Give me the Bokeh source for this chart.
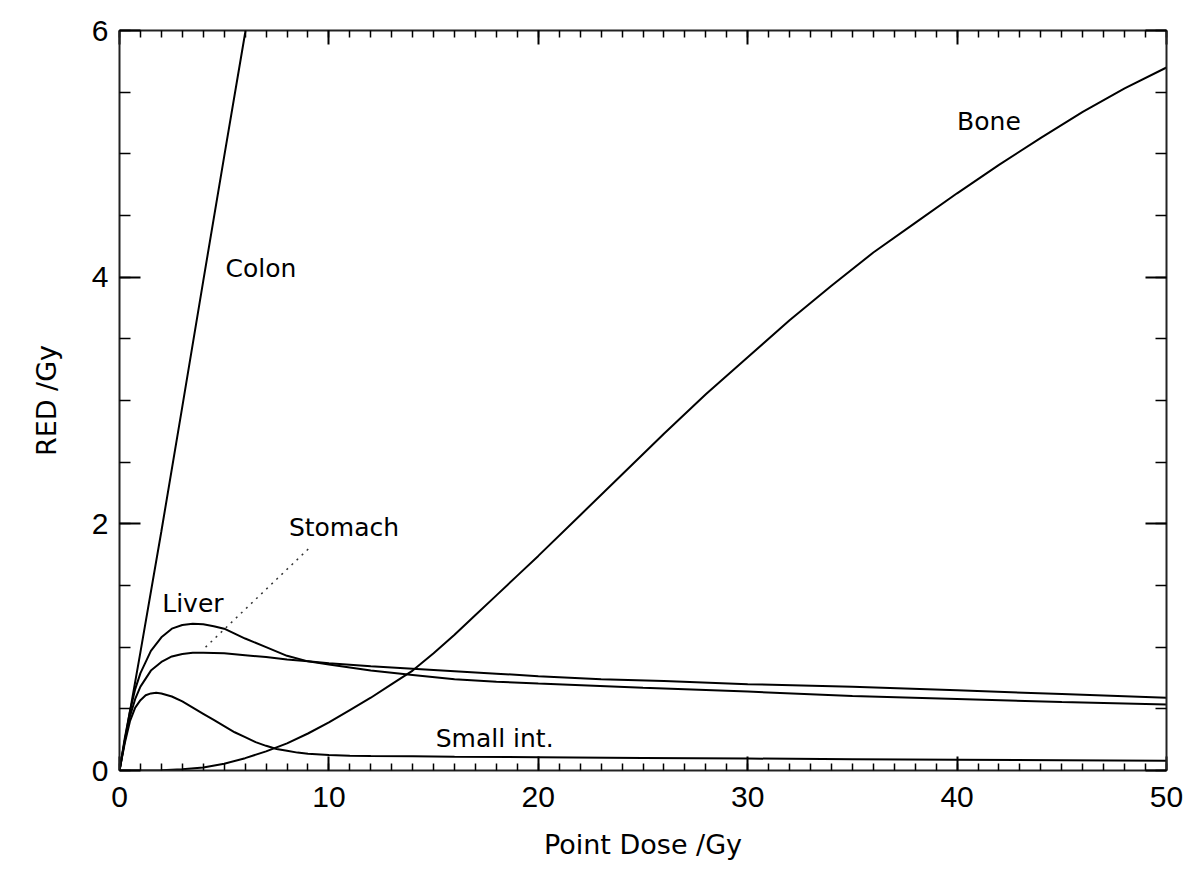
from bokeh.plotting import figure
from bokeh.models import Range1d, LinearAxis, FixedTicker
from bokeh.core.properties import value
from bokeh.embed import file_html
from bokeh.resources import INLINE

# ---- data ----
colon_x = [0, 1, 2, 3, 4, 5, 6, 6.2]
colon_y = [0, 0.96, 1.94, 2.95, 3.97, 4.98, 5.98, 6.2]

liver_x = [0, 0.25, 0.5, 0.75, 1, 1.5, 2, 2.5, 3, 3.5, 4, 4.5, 5, 5.5, 6, 7, 8, 9, 10, 11, 12, 14, 16, 18, 20, 25, 30, 35, 40, 45, 50]
liver_y = [0, 0.26, 0.48, 0.66, 0.79, 0.97, 1.08, 1.15, 1.18, 1.19, 1.185, 1.17, 1.15, 1.11, 1.07, 1.0, 0.93, 0.885, 0.86, 0.835, 0.81, 0.775, 0.74, 0.72, 0.705, 0.67, 0.64, 0.605, 0.58, 0.555, 0.535]

stomach_x = [0, 0.25, 0.5, 0.75, 1, 1.5, 2, 2.5, 3, 3.5, 4, 5, 6, 7, 8, 9, 10, 12, 14, 16, 18, 20, 23, 26, 30, 35, 40, 45, 50]
stomach_y = [0, 0.24, 0.44, 0.58, 0.68, 0.81, 0.88, 0.925, 0.945, 0.955, 0.955, 0.95, 0.935, 0.92, 0.9, 0.885, 0.87, 0.845, 0.825, 0.805, 0.785, 0.765, 0.74, 0.725, 0.70, 0.68, 0.65, 0.62, 0.59]

smallint_x = [0, 0.25, 0.5, 0.75, 1, 1.25, 1.5, 1.75, 2, 2.5, 3, 3.5, 4, 4.5, 5, 5.5, 6, 6.5, 7, 7.5, 8, 8.5, 9, 10, 11, 12, 14, 16, 20, 25, 30, 35, 40, 45, 50]
smallint_y = [0, 0.22, 0.4, 0.51, 0.57, 0.61, 0.625, 0.63, 0.625, 0.6, 0.56, 0.51, 0.46, 0.41, 0.36, 0.31, 0.27, 0.23, 0.2, 0.175, 0.16, 0.145, 0.135, 0.125, 0.12, 0.118, 0.115, 0.112, 0.108, 0.102, 0.097, 0.092, 0.088, 0.084, 0.08]

bone_x = [0, 1, 2, 3, 4, 5, 6, 7, 8, 9, 10, 11, 12, 13, 14, 15, 16, 17, 18, 19, 20, 22, 24, 26, 28, 30, 32, 34, 36, 38, 40, 42, 44, 46, 48, 50]
bone_y = [0, 0, 0.002, 0.01, 0.025, 0.055, 0.1, 0.155, 0.22, 0.3, 0.39, 0.49, 0.59, 0.7, 0.81, 0.95, 1.1, 1.26, 1.42, 1.58, 1.74, 2.07, 2.4, 2.73, 3.05, 3.35, 3.65, 3.93, 4.2, 4.44, 4.68, 4.91, 5.13, 5.34, 5.53, 5.70]

# leader line from the "Stomach" label to its curve
leader_x = [4.11, 9.04]
leader_y = [1.0, 1.80]

# curve labels
label_text = ["Colon", "Bone", "Stomach", "Liver", "Small int."]
label_x = [5.06, 40.0, 8.09, 2.04, 15.1]
label_y = [4.07, 5.26, 1.97, 1.355, 0.26]

x_major = [0, 10, 20, 30, 40, 50]
x_minor = list(range(0, 51))
y_major = [0, 2, 4, 6]
y_minor = [i * 0.5 for i in range(13)]

# ---- figure ----
p = figure(width=1190, height=880, output_backend="svg", toolbar_location=None,
           x_range=Range1d(0, 50), y_range=Range1d(0, 6),
           x_axis_label="Point Dose /Gy", y_axis_label="RED /Gy")
p.min_border_left = 119
p.min_border_right = 24
p.min_border_top = 30
p.min_border_bottom = 110
p.outline_line_color = None
p.background_fill_color = "white"
p.border_fill_color = "white"
p.xgrid.visible = False
p.ygrid.visible = False

line_kw = dict(line_color="black", line_width=2)
p.line(colon_x, colon_y, **line_kw)
p.line(liver_x, liver_y, **line_kw)
p.line(stomach_x, stomach_y, **line_kw)
p.line(smallint_x, smallint_y, **line_kw)
p.line(bone_x, bone_y, **line_kw)
p.line(leader_x, leader_y, line_color="#333333", line_width=1.5, line_dash="2 5")

p.text(x=label_x, y=label_y, text=label_text, text_font=value("DejaVu Sans"),
       text_font_size="25px", text_align="left", text_baseline="middle", text_color="black")

xt = FixedTicker(ticks=x_major, minor_ticks=x_minor)
yt = FixedTicker(ticks=y_major, minor_ticks=y_minor)

def style_common(ax, major_in, minor_in):
    ax.axis_line_color = "#222222"
    ax.axis_line_width = 2
    ax.major_tick_in = major_in
    ax.major_tick_out = 0
    ax.minor_tick_in = minor_in
    ax.minor_tick_out = 0
    ax.major_tick_line_color = "black"
    ax.minor_tick_line_color = "black"
    ax.major_tick_line_width = 2
    ax.minor_tick_line_width = 1.5

def style_labels(ax, label_standoff, title_standoff):
    ax.major_label_text_font = "Liberation Sans"
    ax.major_label_text_font_size = "30px"
    ax.major_label_text_color = "black"
    ax.major_label_standoff = label_standoff
    ax.axis_label_text_font = "DejaVu Sans"
    ax.axis_label_text_font_size = "27px"
    ax.axis_label_text_font_style = "normal"
    ax.axis_label_text_color = "black"
    ax.axis_label_standoff = title_standoff

xa = p.xaxis[0]
xa.ticker = xt
style_common(xa, 14, 7)
style_labels(xa, 16, 19)

ya = p.yaxis[0]
ya.ticker = yt
style_common(ya, 21, 11)
style_labels(ya, 11, 27)

top_ax = LinearAxis(ticker=xt)
style_common(top_ax, 14, 7)
top_ax.major_label_overrides = {t: "" for t in x_major}
top_ax.major_label_standoff = 0
p.add_layout(top_ax, "above")

right_ax = LinearAxis(ticker=yt)
style_common(right_ax, 21, 11)
right_ax.major_label_overrides = {t: "" for t in y_major}
right_ax.major_label_standoff = 0
p.add_layout(right_ax, "right")

open("out.html", "w").write(file_html(p, INLINE))
